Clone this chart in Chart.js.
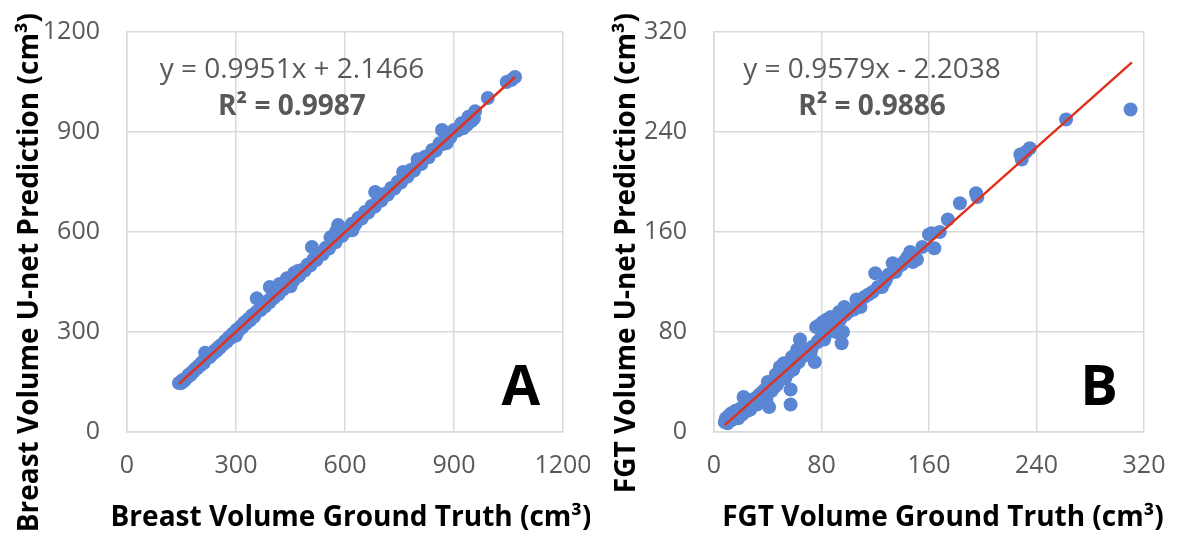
<!DOCTYPE html>
<html>
<head>
<meta charset="utf-8">
<script src="https://cdn.jsdelivr.net/npm/chart.js@4.4.1/dist/chart.umd.min.js"></script>
<style>
  body { margin: 0; background: #fff; }
  #wrap { position: relative; width: 1180px; height: 538px; }
  .panel { position: absolute; top: 0; width: 590px; height: 538px; }
</style>
</head>
<body>
<div id="wrap">
  <div class="panel" style="left:0"><canvas id="chartA" width="590" height="538"></canvas></div>
  <div class="panel" style="left:590px"><canvas id="chartB" width="590" height="538"></canvas></div>
</div>
<script>
// ---- panel A: breast volume (cm3) ----
const breastTruth = [
  143,148,152,157,161,166,170,175,179,184,
  188,193,197,202,206,211,215,219,224,228,
  233,237,242,246,251,255,260,265,270,275,
  280,285,290,296,301,306,312,317,322,328,
  333,339,344,350,357,356,362,368,374,380,
  386,393,392,398,404,410,417,423,430,437,
  444,451,458,466,473,481,489,497,505,509,
  513,521,530,538,547,556,565,574,581,583,
  592,601,610,619,628,637,646,655,664,673,
  683,682,691,700,709,718,727,736,745,754,
  763,772,781,790,800,810,820,830,840,850,
  860,867,870,880,890,900,910,920,930,940,
  944,950,958,993,1045,1058,1068,
  420,440,460,470,560,575,590,700,760,800,
  300,450,620,880,925,935,948,955
];
const breastPred = [
  147,146,155,153,160,164,172,171,180,182,
  190,191,199,200,209,207,238,220,226,225,
  236,235,245,243,254,252,262,263,273,271,
  284,282,294,293,306,303,316,313,328,325,
  338,335,350,346,401,360,365,366,380,377,
  392,435,389,404,402,418,413,430,428,446,
  440,458,454,470,468,486,484,502,500,555,
  518,516,535,533,553,550,572,569,621,590,
  588,606,604,625,622,642,640,660,658,678,
  720,676,696,694,714,712,732,730,750,748,
  768,766,786,784,806,804,826,824,846,844,
  866,906,864,886,884,906,904,926,924,946,
  945,944,962,1002,1050,1056,1065,
  444,461,477,483,584,601,611,712,780,818,
  289,437,605,867,911,921,933,941
];
const breastTrendX = [143, 1068];
const breastTrendY = [144.4, 1064.9];
const breastTicks = [0, 300, 600, 900, 1200];

// ---- panel B: FGT volume (cm3) ----
const fgtTruth = [
  8,9,10,11,12,13,14,15,16,17,
  18,19,20,21,22,23,24,25,26,27,
  28,29,30,31,32,33,34,35,36,37,
  38,39,40,41,42,43,44,45,46,47,
  48,49,50,51,52,53,54,55,56,57,
  57,58,59,60,61,62,63,64,65,66,
  67,68,69,70,72,73,75,76,77,78,
  80,82,84,85,86,88,89,90,91,92,
  94,95,96,98,100,104,106,109,112,115,
  118,120,122,125,127,128,130,133,135,137,
  140,142,144,146,148,151,155,160,162,164,
  168,174,183,195,196,228,229,232,235,262,
  310,
  79,81,87,93,97,62,58,52,46,40
];
const fgtPred = [
  8,11,7,13,9,15,10,12,17,13,
  11,16,19,14,28,18,22,17,25,18,
  21,26,24,27,22,29,30,26,32,28,
  34,26,35,20,38,33,40,36,42,38,
  44,52,45,47,49,43,50,52,48,34,
  22,54,50,57,55,58,56,74,60,66,
  61,64,62,66,64,68,56,84,72,73,
  76,74,90,80,86,82,87,84,80,88,
  90,71,80,94,96,98,106,100,108,110,
  112,127,116,116,120,122,126,135,128,132,
  134,137,140,144,136,138,148,158,159,147,
  160,170,183,191,188,222,218,224,227,250,
  258,
  86,88,92,96,100,66,60,55,46,40
];
const fgtTrendX = [8, 311];
const fgtTrendY = [5.5, 295.7];
const fgtTicks = [0, 80, 160, 240, 320];

const pointColor = '#5a86d4';
const trendColor = '#e0301e';
const gridColor = '#d9d9d9';
const tickColor = '#595959';

Chart.defaults.font.family = '"Open Sans", sans-serif';

const overlay = {
  id: 'overlay',
  afterDraw(chart, args, o) {
    const { ctx } = chart;
    const x = chart.scales.x, y = chart.scales.y;
    ctx.save();
    ctx.textAlign = 'center';
    ctx.textBaseline = 'alphabetic';
    ctx.fillStyle = tickColor;
    ctx.font = '28px "Open Sans"';
    ctx.fillText(o.eq, x.getPixelForValue(o.eqX), y.getPixelForValue(o.eqY));
    ctx.font = 'bold 28px "Open Sans"';
    ctx.fillText(o.r2, x.getPixelForValue(o.eqX), y.getPixelForValue(o.r2Y));
    ctx.fillStyle = '#000';
    ctx.font = 'bold 56px "Open Sans"';
    ctx.fillText(o.letter, x.getPixelForValue(o.letterX), y.getPixelForValue(o.letterY));
    ctx.font = 'bold 28px "Open Sans"';
    ctx.fillText(o.xTitle, o.xTitlePos, 526);
    ctx.translate(o.yTitlePos, 13);
    ctx.rotate(-Math.PI / 2);
    ctx.textAlign = 'right';
    ctx.textBaseline = 'middle';
    ctx.fillText(o.yTitle, 0, 0);
    ctx.restore();
  }
};

function makeChart(id, truth, pred, trendX, trendY, ticks, yWidth, padRight, text) {
  const pts = truth.map((v, i) => ({ x: v, y: pred[i] }));
  const trend = trendX.map((v, i) => ({ x: v, y: trendY[i] }));
  const tickFont = { size: 25 };
  const axis = (extra) => Object.assign({
    min: ticks[0],
    max: ticks[ticks.length - 1],
    afterBuildTicks: s => { s.ticks = ticks.map(v => ({ value: v })); },
    grid: { color: gridColor, lineWidth: 1.5, drawTicks: false },
    border: { color: gridColor, width: 1.5 }
  }, extra);
  return new Chart(document.getElementById(id), {
    type: 'scatter',
    data: {
      datasets: [
        { data: trend, showLine: true, borderColor: trendColor, borderWidth: 2.5, pointRadius: 0, order: 0 },
        { data: pts, backgroundColor: pointColor, borderWidth: 0, pointRadius: 7, order: 1 }
      ]
    },
    options: {
      responsive: false,
      animation: false,
      layout: { padding: { top: 32, right: padRight, bottom: 0, left: 0 } },
      plugins: { legend: { display: false }, tooltip: { enabled: false }, overlay: text },
      scales: {
        x: axis({
          afterFit: s => { s.height = 106; s.paddingLeft = 0; s.paddingRight = 0; },
          ticks: { color: tickColor, font: tickFont, padding: 19, maxRotation: 0, callback: v => String(v) }
        }),
        y: axis({
          afterFit: s => { s.width = yWidth; s.paddingTop = 0; s.paddingBottom = 0; },
          ticks: { color: tickColor, font: tickFont, padding: 27, callback: v => String(v) }
        })
      }
    },
    plugins: [overlay]
  });
}

Promise.all([
  document.fonts.load('25px "Open Sans"'),
  document.fonts.load('bold 28px "Open Sans"')
]).catch(() => {}).then(() => {
  makeChart('chartA', breastTruth, breastPred, breastTrendX, breastTrendY, breastTicks, 127, 27, {
    eq: 'y = 0.9951x + 2.1466', r2: 'R² = 0.9987', eqX: 454, eqY: 1062, r2Y: 951,
    letter: 'A', letterX: 1084, letterY: 81,
    xTitle: 'Breast Volume Ground Truth (cm³)', xTitlePos: 351,
    yTitle: 'Breast Volume U-net Prediction (cm³)', yTitlePos: 30
  });
  makeChart('chartB', fgtTruth, fgtPred, fgtTrendX, fgtTrendY, fgtTicks, 124, 36, {
    eq: 'y = 0.9579x - 2.2038', r2: 'R² = 0.9886', eqX: 117.6, eqY: 283, r2Y: 253.6,
    letter: 'B', letterX: 286.5, letterY: 21.6,
    xTitle: 'FGT Volume Ground Truth (cm³)', xTitlePos: 353,
    yTitle: 'FGT Volume U-net Prediction (cm³)', yTitlePos: 37
  });
});
</script>
</body>
</html>
